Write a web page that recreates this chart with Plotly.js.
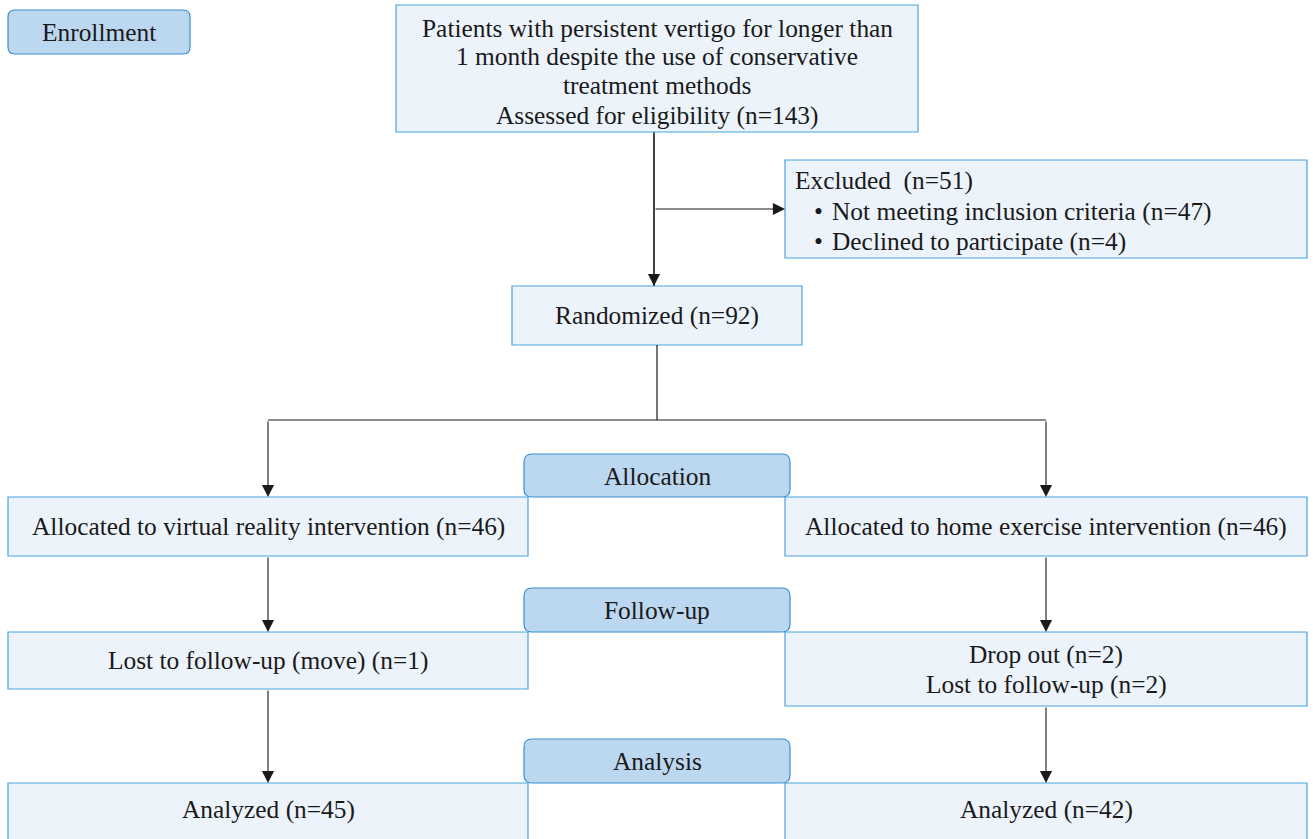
<!DOCTYPE html>
<html>
<head>
<meta charset="utf-8">
<script src="https://cdn.plot.ly/plotly-3.0.1.min.js"></script>
<style>html,body{margin:0;padding:0;background:#fff;}#chart{width:1313px;height:839px;}</style>
</head>
<body>
<div id="chart"></div>
<script>
// ---- data (text and counts of the flow diagram) ----
var phases = ["Enrollment", "Allocation", "Follow-up", "Analysis"];
var screeningText = ["Patients with persistent vertigo for longer than", "1 month despite the use of conservative", "treatment methods"];
var assessed = 143;
var excluded = 51;
var exclusionReasons = ["Not meeting inclusion criteria", "Declined to participate"];
var exclusionCounts = [47, 4];
var randomized = 92;
var arms = ["virtual reality intervention", "home exercise intervention"];
var allocated = [46, 46];
var lossReasons = [["Lost to follow-up (move)"], ["Drop out", "Lost to follow-up"]];
var lossCounts = [[1], [2, 2]];
var analyzed = [45, 42];

// ---- layout geometry (pixel coordinates) ----
var FONT = "Liberation Serif, Times New Roman, serif";
var FS = 25.4;
var boxFill = "#ECF3FB", boxLine = "#4AA3DF";
var hdrFill = "#BCD7F0", hdrLine = "#3590D4";
var lineCol = "#1a1a1a";

var shapes = [], annotations = [];

function rect(x0, y0, x1, y1) {
  shapes.push({type: "rect", xref: "x", yref: "y", x0: x0, y0: y0, x1: x1, y1: y1,
    fillcolor: boxFill, line: {color: boxLine, width: 1.2}, layer: "below"});
}
function rrect(x0, y0, x1, y1, r) {
  var p = "M" + (x0 + r) + "," + y0 + " L" + (x1 - r) + "," + y0 +
    " Q" + x1 + "," + y0 + " " + x1 + "," + (y0 + r) +
    " L" + x1 + "," + (y1 - r) + " Q" + x1 + "," + y1 + " " + (x1 - r) + "," + y1 +
    " L" + (x0 + r) + "," + y1 + " Q" + x0 + "," + y1 + " " + x0 + "," + (y1 - r) +
    " L" + x0 + "," + (y0 + r) + " Q" + x0 + "," + y0 + " " + (x0 + r) + "," + y0 + " Z";
  shapes.push({type: "path", xref: "x", yref: "y", path: p, fillcolor: hdrFill,
    line: {color: hdrLine, width: 1.2}, layer: "above"});
}
function text(x, y, t, anchor) {
  annotations.push({x: x, y: y, xref: "x", yref: "y", text: t, showarrow: false,
    xanchor: anchor || "center", yanchor: "middle", align: anchor === "left" ? "left" : "center",
    font: {family: FONT, size: FS, color: "#1a1a1a"}});
}
function textLines(x, ys, arr) {
  for (var i = 0; i < arr.length; i++) text(x, ys[i], arr[i]);
}
function line(x0, y0, x1, y1) {
  shapes.push({type: "line", xref: "x", yref: "y", x0: x0, y0: y0, x1: x1, y1: y1,
    line: {color: lineCol, width: 1.2}});
}
function arrow(x0, y0, x1, y1) {
  annotations.push({x: x1, y: y1, ax: x0, ay: y0, xref: "x", yref: "y", axref: "x", ayref: "y",
    text: "", showarrow: true, arrowhead: 2, arrowsize: 2.2, arrowwidth: 1.1,
    arrowcolor: lineCol, standoff: 0, startstandoff: 0});
}

// Enrollment header
rrect(8, 10, 190, 54, 7);
text(99, 32, phases[0]);

// Screening box
rect(396, 5, 918, 132);
textLines(657, [28, 56, 85, 115], screeningText.concat(["Assessed for eligibility (n=" + assessed + ")"]));

// Excluded box
rect(785, 160, 1307, 258);
text(793, 180, "Excluded  (n=" + excluded + ")", "left");
for (var i = 0; i < exclusionReasons.length; i++) {
  var yy = 211 + i * 30;
  text(812, yy, "•", "left");
  text(830, yy, exclusionReasons[i] + " (n=" + exclusionCounts[i] + ")", "left");
}

// Randomized
rect(512, 286, 802, 345);
text(657, 315, "Randomized (n=" + randomized + ")");

// connectors top
line(654, 132, 654, 286);
arrow(654, 132, 654, 286);
arrow(654, 209, 785, 209);
line(657, 345, 657, 420);
line(268, 420, 1046, 420);
arrow(268, 420, 268, 497);
arrow(1046, 420, 1046, 497);

// arms
var armX = [[8, 528], [785, 1307]];
var armC = [268, 1046];
var lossY = [[632, 689], [632, 706]];
var lossTextY = [[660], [654, 684]];
for (var a = 0; a < 2; a++) {
  var x0 = armX[a][0], x1 = armX[a][1], cx = (x0 + x1) / 2;
  rect(x0, 497, x1, 556);
  text(cx, 526, "Allocated to " + arms[a] + " (n=" + allocated[a] + ")");
  rect(x0, lossY[a][0], x1, lossY[a][1]);
  var lines = [];
  for (var k = 0; k < lossReasons[a].length; k++) lines.push(lossReasons[a][k] + " (n=" + lossCounts[a][k] + ")");
  textLines(cx, lossTextY[a], lines);
  rect(x0, 783, x1, 845);
  text(cx, 809, "Analyzed (n=" + analyzed[a] + ")");
  arrow(armC[a], 556, armC[a], 632);
  arrow(armC[a], lossY[a][1], armC[a], 783);
}

// phase headers
rrect(524, 454, 790, 497, 8);
text(657, 476, phases[1]);
rrect(524, 588, 790, 632, 8);
text(657, 610, phases[2]);
rrect(524, 739, 790, 783, 8);
text(657, 761, phases[3]);

var layout = {
  width: 1313, height: 839,
  margin: {l: 0, r: 0, t: 0, b: 0},
  paper_bgcolor: "#ffffff", plot_bgcolor: "#ffffff",
  xaxis: {range: [0, 1313], visible: false, fixedrange: true},
  yaxis: {range: [839, 0], visible: false, fixedrange: true},
  shapes: shapes, annotations: annotations, showlegend: false
};
Plotly.newPlot("chart", [], layout, {staticPlot: true});
</script>
</body>
</html>
